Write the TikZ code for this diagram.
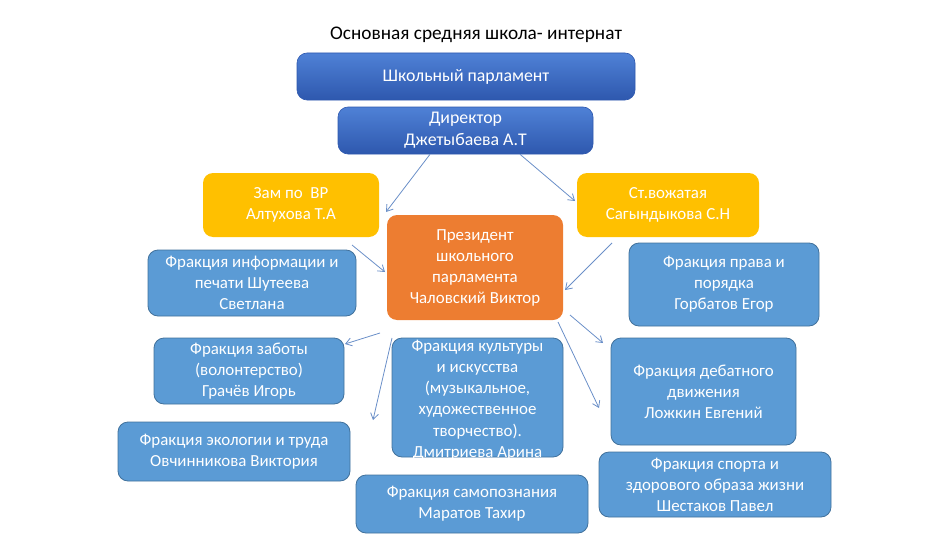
\documentclass[tikz,border=0pt]{standalone}
\usepackage{fontspec}
\setmainfont{Carlito}
\usetikzlibrary{arrows.meta}
\definecolor{bluebox}{HTML}{5B9BD5}
\definecolor{blueedge}{HTML}{41719C}
\definecolor{topA}{HTML}{4F81D6}
\definecolor{topB}{HTML}{2E58AE}
\definecolor{gold}{HTML}{FFC000}
\definecolor{orangebox}{HTML}{ED7D31}
\definecolor{arrowc}{HTML}{6A8FC8}
\tikzset{
  boxbase/.style={rectangle, rounded corners=10pt, align=center, inner sep=0pt, text=white,
    font=\fontsize{16.9}{21}\selectfont},
  topbox/.style={boxbase, top color=topA, bottom color=topB, draw=topB, line width=0.6pt,
    font=\fontsize{17.8}{22}\selectfont},
  goldbox/.style={boxbase, fill=gold, draw=none},
  orangebox/.style={boxbase, fill=orangebox, draw=none},
  facbox/.style={boxbase, fill=bluebox, draw=blueedge, line width=0.8pt},
  conn/.style={draw=arrowc, line width=0.8pt, -{Straight Barb[length=6pt,width=8pt]}}
}
\begin{document}
\begin{tikzpicture}[x=1pt,y=-1pt]
\useasboundingbox (0,0) rectangle (950,535);
\node[font=\fontsize{19.3}{22}\selectfont] (title) at (476,35) {Основная средняя школа- интернат};
\node[topbox, minimum width=338pt, minimum height=47pt] (parl) at (466,76.5) {Школьный парламент};
\node[topbox, minimum width=255pt, minimum height=47pt] (dir) at (465.5,130.5) {Директор\\Джетыбаева А.Т};
\node[goldbox, minimum width=176pt, minimum height=64pt] (zam) at (291,205) {Зам по\ \ ВР\\Алтухова Т.А};
\node[goldbox, minimum width=182pt, minimum height=64pt] (vozh) at (668,205) {Ст.вожатая\\Сагындыкова С.Н};
\node[orangebox, minimum width=176pt, minimum height=105pt] (pres) at (475,267.5) {Президент\\школьного\\парламента\\Чаловский Виктор};
\node[facbox, minimum width=208pt, minimum height=66pt] (info) at (252,283) {Фракция информации и\\печати Шутеева\\Светлана};
\node[facbox, minimum width=190pt, minimum height=83pt] (prava) at (724,284.5) {Фракция права и\\порядка\\Горбатов Егор};
\node[facbox, minimum width=190pt, minimum height=66pt] (zab) at (249,371) {Фракция заботы\\(волонтерство)\\Грачёв Игорь};
\begin{scope}
\node[facbox, minimum width=171pt, minimum height=119pt] (kult) at (477.5,397.5) {};
\clip[rounded corners=10pt] (kult.north west) rectangle (kult.south east);
\node[boxbase, font=\fontsize{16.9}{21.2}\selectfont] (kulttext) at (477.5,400) {Фракция культуры\\и искусства\\(музыкальное,\\художественное\\творчество).\\Дмитриева Арина};
\end{scope}
\node[facbox, minimum width=185pt, minimum height=107pt] (debat) at (703.5,391.5) {Фракция дебатного\\движения\\Ложкин Евгений};
\node[facbox, minimum width=232pt, minimum height=59pt] (ekol) at (234,451.5) {Фракция экологии и труда\\Овчинникова Виктория};
\node[facbox, minimum width=232pt, minimum height=58pt] (samo) at (472,504) {Фракция самопознания\\Маратов Тахир};
\node[facbox, minimum width=232pt, minimum height=65pt] (sport) at (715,484.5) {Фракция спорта и\\здорового образа жизни\\Шестаков Павел};
% arrow end points
\coordinate (e1) at (386,212);
\coordinate (e2) at (575,201);
\coordinate (s3) at (352,245);
\coordinate (e3) at (385,272);
\coordinate (s4) at (612,243);
\coordinate (e4) at (565,290);
\coordinate (s5) at (380,333);
\coordinate (e5) at (345,344);
\coordinate (s6) at (392,338);
\coordinate (e6) at (373,420);
\coordinate (s7) at (570,315);
\coordinate (e7) at (603,343);
\coordinate (s8) at (558,322);
\coordinate (e8) at (599,408);
\draw[conn] (dir.south -| 430,0) -- (e1);
\draw[conn] (dir.south -| 520,0) -- (e2);
\draw[conn] (s3) -- (e3);
\draw[conn] (s4) -- (e4);
\draw[conn] (s5) -- (e5);
\draw[conn] (s6) -- (e6);
\draw[conn] (s7) -- (e7);
\draw[conn] (s8) -- (e8);
\end{tikzpicture}
\end{document}
